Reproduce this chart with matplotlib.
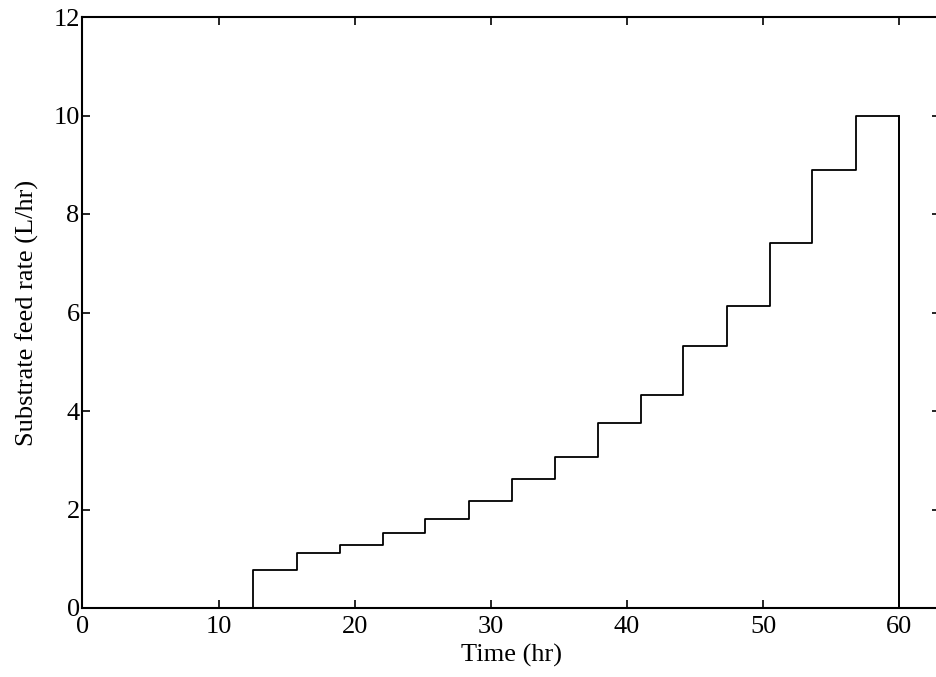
import numpy as np
import matplotlib
matplotlib.use("Agg")
from matplotlib import pyplot as plt

# switching times (hr) and feed rate held during each interval (L/hr)
t_switch = [12.5, 15.75, 18.95, 22.05, 25.2, 28.4, 31.55, 34.7, 37.85,
            41.0, 44.15, 47.35, 50.5, 53.6, 56.8, 60.0]
feed_rate = [0.77, 1.11, 1.27, 1.52, 1.81, 2.17, 2.62, 3.06, 3.75,
             4.33, 5.31, 6.14, 7.42, 8.90, 10.0]

plt.rcParams['font.family'] = ['Liberation Serif', 'DejaVu Serif']
plt.rcParams['font.size'] = 19

W, H = 937, 677
fig = plt.figure(figsize=(W / 100, H / 100), dpi=100)
ax = fig.add_axes([82.5 / W, 1 - 608 / H, (940 - 82.5) / W, (608 - 17) / H])

# step outline: zero until the first switch, each level held to the next switch, then back to zero
x = [0.0] + list(t_switch)
y = [0.0] + list(feed_rate) + [0.0]
ax.step(x, y[:len(x)], where='post', color='black', lw=1.3)
ax.plot([t_switch[-1], t_switch[-1]], [feed_rate[-1], 0.0], color='black', lw=1.3)

ax.set_xlim(0, 63)
ax.set_ylim(0, 12)
ax.set_xticks(np.arange(0, 61, 10))
ax.set_yticks(np.arange(0, 13, 2))

for s in ax.spines.values():
    s.set_linewidth(1.5)
ax.tick_params(direction='in', length=6, width=1.2, top=True, right=True)
ax.tick_params(axis='x', pad=6)
ax.tick_params(axis='y', pad=2)

ax.set_xlabel("Time (hr)", labelpad=4)
ax.set_ylabel("Substrate feed rate (L/hr)", labelpad=10)

fig.savefig("out.png", dpi=100)
